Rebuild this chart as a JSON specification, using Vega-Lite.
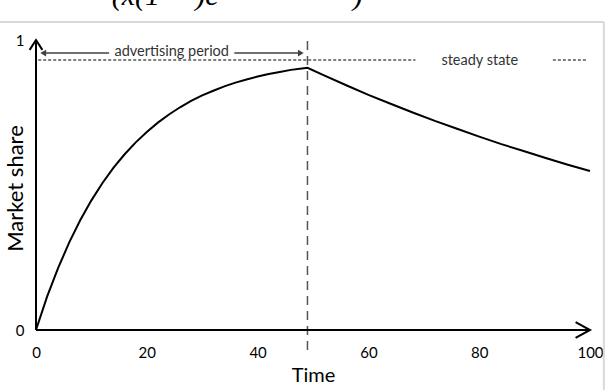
{
  "$schema": "https://vega.github.io/schema/vega-lite/v6.json",
  "width": 554,
  "height": 290,
  "autosize": "none",
  "padding": {"left": 36, "top": 40, "right": 16, "bottom": 60},
  "background": "white",
  "config": {"view": {"stroke": null}, "font": "Lato"},
  "datasets": {
    "curve": [
      {"t": 0, "m": 0}, {"t": 2, "m": 0.115}, {"t": 4, "m": 0.214}, {"t": 6, "m": 0.302}, {"t": 8, "m": 0.379},
      {"t": 10, "m": 0.447}, {"t": 12, "m": 0.507}, {"t": 14, "m": 0.560}, {"t": 16, "m": 0.606}, {"t": 18, "m": 0.647},
      {"t": 20, "m": 0.683}, {"t": 22, "m": 0.715}, {"t": 24, "m": 0.743}, {"t": 26, "m": 0.768}, {"t": 28, "m": 0.790},
      {"t": 30, "m": 0.809}, {"t": 32, "m": 0.825}, {"t": 34, "m": 0.840}, {"t": 36, "m": 0.853}, {"t": 38, "m": 0.864},
      {"t": 40, "m": 0.874}, {"t": 42, "m": 0.883}, {"t": 44, "m": 0.890}, {"t": 46, "m": 0.897}, {"t": 48, "m": 0.902},
      {"t": 49, "m": 0.904},
      {"t": 52, "m": 0.878}, {"t": 56, "m": 0.844}, {"t": 60, "m": 0.811}, {"t": 64, "m": 0.780}, {"t": 68, "m": 0.750},
      {"t": 72, "m": 0.721}, {"t": 76, "m": 0.694}, {"t": 80, "m": 0.667}, {"t": 84, "m": 0.641}, {"t": 88, "m": 0.617},
      {"t": 92, "m": 0.593}, {"t": 96, "m": 0.570}, {"t": 100, "m": 0.548}
    ],
    "axislines": [
      {"seg": "x", "o": 1, "t": 0, "m": 0}, {"seg": "x", "o": 2, "t": 100, "m": 0},
      {"seg": "y", "o": 1, "t": 0, "m": 0}, {"seg": "y", "o": 2, "t": 0, "m": 1},
      {"seg": "xa", "o": 1, "t": 97.4, "m": 0.027}, {"seg": "xa", "o": 2, "t": 100, "m": 0}, {"seg": "xa", "o": 3, "t": 97.4, "m": -0.027},
      {"seg": "ya", "o": 1, "t": -1.15, "m": 0.966}, {"seg": "ya", "o": 2, "t": 0, "m": 1}, {"seg": "ya", "o": 3, "t": 1.15, "m": 0.966}
    ],
    "steady": [
      {"seg": "a", "t": 0.4, "m": 0.931}, {"seg": "a", "t": 68.5, "m": 0.931},
      {"seg": "b", "t": 93.3, "m": 0.931}, {"seg": "b", "t": 99.6, "m": 0.931}
    ],
    "vline": [
      {"t": 49, "m": -0.069}, {"t": 49, "m": 1.007}
    ],
    "advline": [
      {"seg": "a", "t": 1.4, "m": 0.955}, {"seg": "a", "t": 13.2, "m": 0.955},
      {"seg": "b", "t": 35.8, "m": 0.955}, {"seg": "b", "t": 47.6, "m": 0.955}
    ],
    "heads": [
      {"t": 1.3, "m": 0.955, "shape": "triangle-left"},
      {"t": 47.8, "m": 0.955, "shape": "triangle-right"}
    ],
    "labels": [
      {"t": 24.5, "m": 0.958, "label": "advertising period"},
      {"t": 80.1, "m": 0.929, "label": "steady state"}
    ],
    "frame": [
      {"seg": "top", "t": -7, "m": 1.062}, {"seg": "top", "t": 102.5, "m": 1.062},
      {"seg": "right", "t": 102.5, "m": 1.062}, {"seg": "right", "t": 102.5, "m": -0.21}
    ],
    "formula": [
      {"t": 23.3, "m": 1.121, "label": "(x(1 − )e", "align": "left"},
      {"t": 58.1, "m": 1.121, "label": ")", "align": "center"}
    ]
  },
  "layer": [
    {
      "data": {"name": "frame"},
      "mark": {"type": "line", "color": "#d9d9d9", "strokeWidth": 2, "clip": false},
      "encoding": {
        "x": {"field": "t", "type": "quantitative", "scale": {"domain": [0, 100], "nice": false, "zero": false},
          "axis": {"values": [0, 20, 40, 60, 80, 100], "domain": false, "ticks": false, "grid": false, "labelFlush": false,
            "labelPadding": 15, "labelFontSize": 15, "labelFont": "Lato", "labelColor": "#000",
            "title": "Time", "titleFont": "Lato", "titleFontSize": 20, "titleFontWeight": "normal", "titleColor": "#000", "titlePadding": 5}},
        "y": {"field": "m", "type": "quantitative", "scale": {"domain": [0, 1], "nice": false, "zero": false},
          "axis": {"values": [0, 1], "format": "d", "domain": false, "ticks": false, "grid": false, "labelFlush": false,
            "labelPadding": 12, "labelFontSize": 15, "labelFont": "Lato", "labelColor": "#000",
            "title": "Market share", "titleFont": "Lato", "titleFontSize": 22, "titleFontWeight": "normal", "titleColor": "#000",
            "titleX": -21, "titleY": 148, "titleBaseline": "middle", "titleAngle": -90, "titleAlign": "center"}},
        "detail": {"field": "seg"}
      }
    },
    {
      "data": {"name": "steady"},
      "mark": {"type": "line", "color": "#000", "strokeWidth": 1, "strokeDash": [3, 2], "clip": false},
      "encoding": {"x": {"field": "t", "type": "quantitative"}, "y": {"field": "m", "type": "quantitative"}, "detail": {"field": "seg"}}
    },
    {
      "data": {"name": "vline"},
      "mark": {"type": "line", "color": "#555", "strokeWidth": 1.5, "strokeDash": [9, 6], "clip": false},
      "encoding": {"x": {"field": "t", "type": "quantitative"}, "y": {"field": "m", "type": "quantitative"}}
    },
    {
      "data": {"name": "advline"},
      "mark": {"type": "line", "color": "#404040", "strokeWidth": 1.5, "clip": false},
      "encoding": {"x": {"field": "t", "type": "quantitative"}, "y": {"field": "m", "type": "quantitative"}, "detail": {"field": "seg"}}
    },
    {
      "data": {"name": "heads"},
      "mark": {"type": "point", "filled": true, "color": "#404040", "size": 45, "opacity": 1, "clip": false},
      "encoding": {"x": {"field": "t", "type": "quantitative"}, "y": {"field": "m", "type": "quantitative"},
        "shape": {"field": "shape", "type": "nominal", "scale": null}}
    },
    {
      "data": {"name": "labels"},
      "mark": {"type": "text", "font": "Lato", "fontSize": 14.5, "color": "#333", "baseline": "middle", "align": "center"},
      "encoding": {"x": {"field": "t", "type": "quantitative"}, "y": {"field": "m", "type": "quantitative"}, "text": {"field": "label"}}
    },
    {
      "data": {"name": "axislines"},
      "mark": {"type": "line", "color": "#000", "strokeWidth": 2, "clip": false},
      "encoding": {"x": {"field": "t", "type": "quantitative"}, "y": {"field": "m", "type": "quantitative"},
        "detail": {"field": "seg"}, "order": {"field": "o"}}
    },
    {
      "data": {"name": "curve"},
      "mark": {"type": "line", "color": "#000", "strokeWidth": 2, "clip": false},
      "encoding": {"x": {"field": "t", "type": "quantitative"}, "y": {"field": "m", "type": "quantitative"}}
    },
    {
      "data": {"name": "formula"},
      "mark": {"type": "text", "font": "Liberation Serif", "fontSize": 30, "fontStyle": "italic", "color": "#000", "baseline": "alphabetic"},
      "encoding": {"x": {"field": "t", "type": "quantitative"}, "y": {"field": "m", "type": "quantitative"},
        "text": {"field": "label"}, "align": {"field": "align", "type": "nominal", "scale": null}}
    }
  ]
}
